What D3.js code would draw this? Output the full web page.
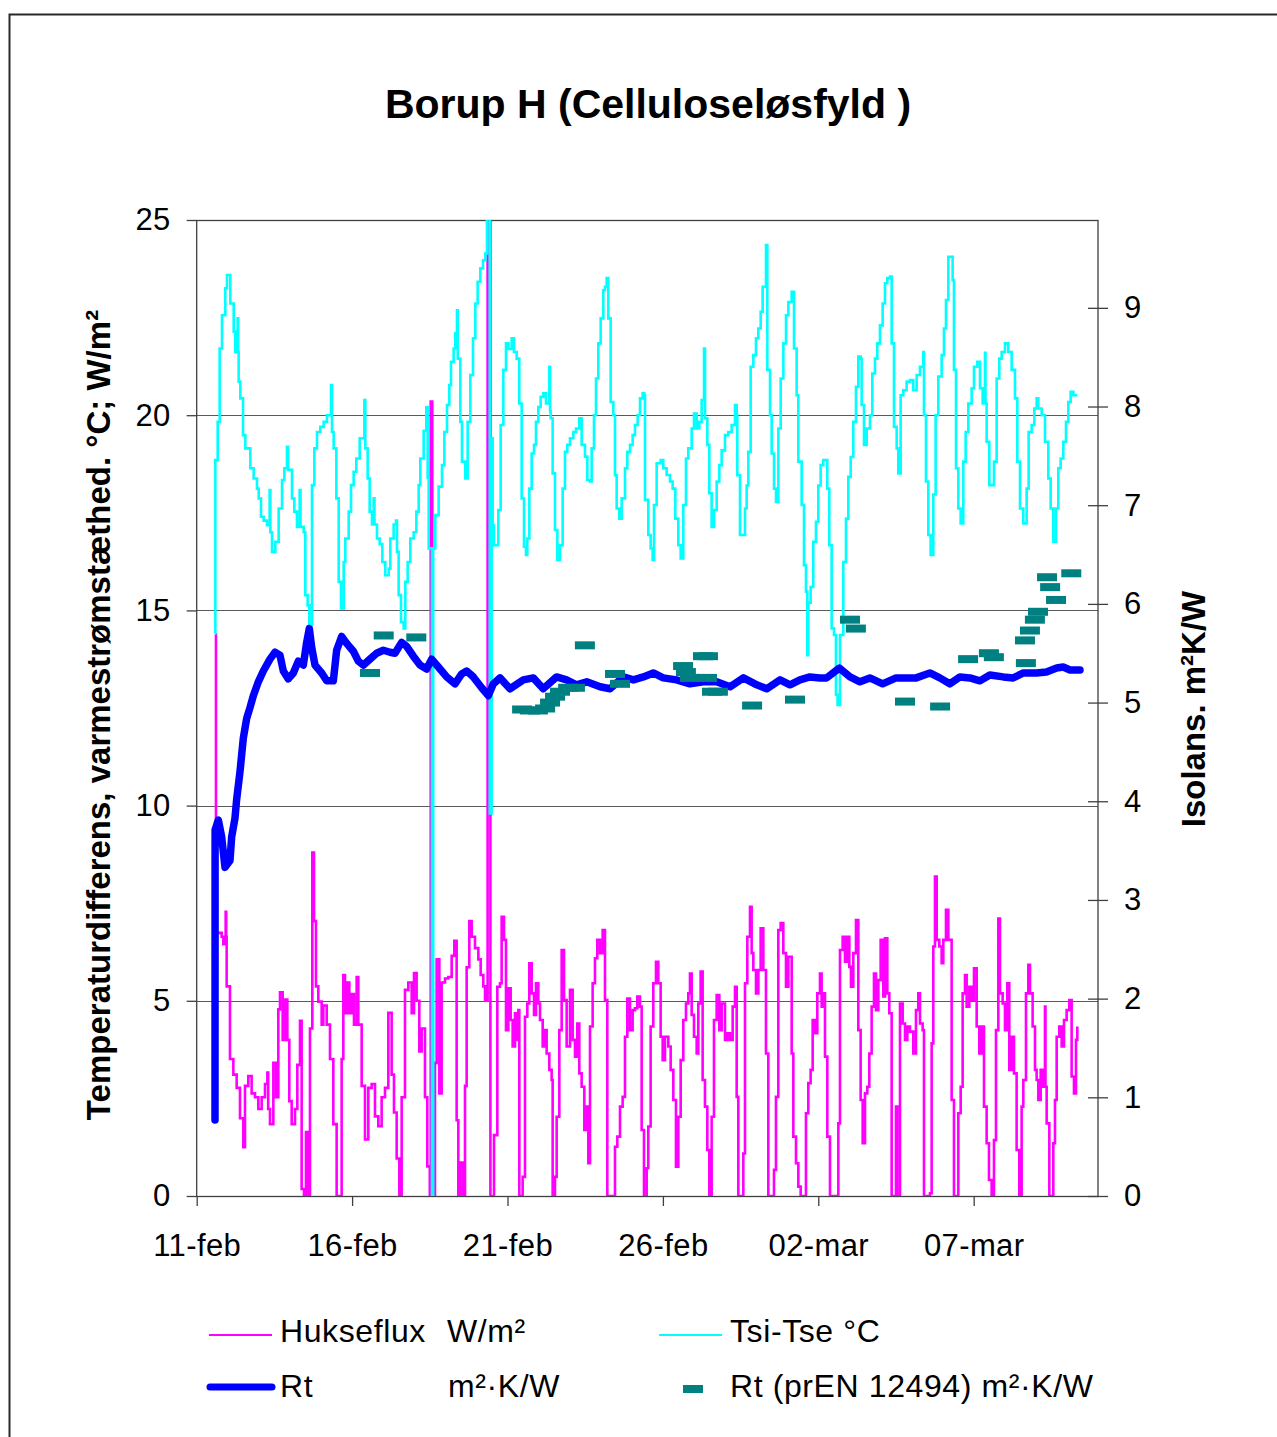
<!DOCTYPE html>
<html>
<head>
<meta charset="utf-8">
<script src="https://cdn.jsdelivr.net/npm/d3@7"></script>
<style>
  body { margin: 0; background: #fff; }
  svg { display: block; font-family: "Liberation Sans", Arial, sans-serif; }
</style>
</head>
<body>
<svg id="chart" width="1277" height="1437"></svg>
<script>
// Time axis: days after 11 Feb (leap year, so 26-feb + 5 days = 02-mar)
const xTickDays = [0, 5, 10, 15, 20, 25];
const xTickLabels = ["11-feb", "16-feb", "21-feb", "26-feb", "02-mar", "07-mar"];
const leftTicks = [0, 5, 10, 15, 20, 25];
const rightTicks = [0, 1, 2, 3, 4, 5, 6, 7, 8, 9];

// Hukseflux heat flux, W/m² — [day, value]
const hukseflux = [
  [0.59,14.39],[0.62,6.74],[0.803,6.64],[0.857,6.45],[0.932,7.28],[0.95,6.64],[0.964,5.37],[1.071,3.51],[1.179,3.11],[1.286,2.77],
  [1.393,1.99],[1.5,1.25],[1.554,2.82],[1.661,3.07],[1.768,2.63],[1.876,2.53],[1.983,2.23],[2.09,2.53],[2.198,2.87],[2.273,3.16],
  [2.30,2.23],[2.358,1.84],[2.466,3.41],[2.551,2.53],[2.626,4.78],[2.68,5.22],[2.766,4.0],[2.841,5.03],[2.916,4.0],[2.98,2.43],
  [3.056,1.84],[3.163,2.23],[3.238,3.36],[3.324,4.49],[3.377,0.18],[3.452,0],[3.517,1.64],[3.592,0],[3.645,4.29],[3.72,8.80],
  [3.774,7.04],[3.838,5.37],[3.913,4.98],[4.021,4.39],[4.074,4.88],[4.182,4.39],[4.289,3.51],[4.396,1.84],[4.503,0],[4.664,3.51],
  [4.718,5.66],[4.772,4.68],[4.847,5.47],[4.911,4.68],[4.986,5.17],[5.061,4.39],[5.147,5.61],[5.2,4.39],[5.308,2.82],[5.415,1.45],
  [5.522,2.77],[5.63,2.87],[5.737,2.04],[5.844,1.79],[5.951,2.53],[6.059,2.77],[6.166,4.69],[6.273,3.11],[6.348,2.14],[6.434,0.96],
  [6.52,0],[6.595,2.53],[6.702,5.28],[6.809,5.47],[6.917,4.68],[6.992,5.71],[7.077,5.0],[7.163,3.70],[7.238,4.29],[7.345,2.53],
  [7.42,0.76],[7.50,0],[7.53,20.35],[7.58,0],[7.667,3.41],[7.721,6.06],[7.807,2.63],[7.882,5.47],[7.989,5.57],[8.096,5.61],
  [8.204,6.15],[8.289,6.54],[8.364,1.94],[8.418,0],[8.493,0.86],[8.579,0],[8.633,2.82],[8.686,5.86],[8.772,7.04],[8.847,6.64],
  [8.954,6.35],[9.062,6.06],[9.137,5.66],[9.222,5.37],[9.277,5.0],[9.36,27],[9.45,0],
  [9.566,1.56],[9.673,5.36],[9.759,5.45],[9.812,7.15],[9.887,6.56],[9.952,4.25],[10.027,5.32],[10.102,4.51],[10.166,3.83],[10.241,4.68],
  [10.295,4.0],[10.349,4.76],[10.381,0],[10.488,0.49],[10.563,4.59],[10.638,4.93],[10.702,5.96],[10.778,5.19],[10.853,4.64],[10.917,5.45],
  [10.992,4.93],[11.046,4.51],[11.132,3.83],[11.207,4.25],[11.26,3.65],[11.346,3.23],[11.421,2.97],[11.453,0],[11.528,0.49],[11.582,2.03],
  [11.668,4.25],[11.743,6.30],[11.818,5.02],[11.904,3.83],[12.011,5.28],[12.097,4.0],[12.172,3.57],[12.247,4.42],[12.311,3.14],[12.386,2.80],
  [12.472,1.69],[12.547,2.29],[12.601,0.84],[12.655,4.34],[12.74,5.45],[12.815,6.09],[12.89,6.56],[12.976,6.22],[13.062,6.81],[13.137,5.02],
  [13.212,0],[13.459,1.26],[13.534,1.52],[13.62,2.29],[13.705,2.54],[13.781,4.08],[13.856,5.06],[13.941,4.25],[14.027,4.76],[14.102,4.81],
  [14.177,5.11],[14.263,4.85],[14.317,1.69],[14.392,0],[14.478,0.71],[14.531,1.78],[14.606,4.34],[14.692,5.45],[14.778,6.0],[14.853,5.45],
  [14.928,4.08],[14.993,3.48],[15.068,4.08],[15.175,3.83],[15.25,3.23],[15.336,2.46],[15.421,0.75],[15.497,2.03],[15.572,3.48],[15.657,4.51],
  [15.743,4.93],[15.818,5.19],[15.872,5.70],[15.926,4.64],[16.001,4.08],[16.087,3.65],[16.14,4.93],[16.215,5.75],[16.279,2.97],[16.354,2.29],
  [16.43,1.18],[16.494,0],[16.569,2.03],[16.644,4.51],[16.73,5.15],[16.816,4.25],[16.891,4.93],[16.998,4.0],[17.073,4.17],[17.159,4.0],
  [17.245,4.85],[17.32,5.36],[17.374,2.54],[17.427,0],[17.588,1.09],[17.642,5.45],[17.717,6.64],[17.803,7.41],[17.856,6.22],[17.91,5.79],
  [17.996,5.19],[18.071,5.79],[18.146,6.86],[18.232,5.79],[18.317,3.65],[18.392,0],[18.575,0.67],[18.639,2.54],[18.714,6.81],[18.789,6.99],
  [18.875,6.22],[18.961,5.36],[19.036,6.13],[19.144,3.65],
  [19.197,1.52],[19.283,0.84],[19.358,0.24],[19.433,0],[19.604,2.12],[19.679,2.89],[19.754,3.23],[19.819,4.51],[19.894,4.17],[19.969,5.19],
  [20.055,5.70],[20.108,4.85],[20.162,5.19],[20.216,3.57],[20.291,1.52],[20.377,0],[20.645,1.86],[20.698,6.30],[20.784,6.64],[20.859,6.0],
  [20.934,6.64],[20.999,5.87],[21.052,5.36],[21.127,6.22],[21.213,7.07],[21.288,4.25],[21.363,2.46],[21.428,1.35],[21.503,2.63],[21.578,2.80],
  [21.642,3.65],[21.717,4.85],[21.792,5.70],[21.857,4.76],[21.932,5.53],[22.007,6.56],[22.092,5.11],[22.146,6.60],[22.221,5.19],[22.286,4.68],
  [22.361,0],[22.5,2.29],[22.543,0],[22.629,4.93],[22.715,4.42],[22.79,4.0],[22.865,4.34],[22.95,4.21],[23.058,3.65],[23.143,4.76],
  [23.219,5.19],[23.272,4.42],[23.358,4.25],[23.401,0],[23.594,0.07],[23.648,3.91],[23.701,6.39],[23.755,8.18],[23.809,6.56],[23.894,6.39],
  [23.969,5.96],[24.023,6.56],[24.109,7.33],[24.184,6.56],[24.291,2.46],[24.366,0],[24.506,2.12],[24.581,2.80],[24.645,5.19],[24.72,5.66],
  [24.774,4.85],[24.86,5.36],[24.935,5.02],[25.01,5.83],[25.096,4.34],[25.181,3.65],[25.256,4.34],[25.332,2.29],[25.417,1.35],[25.492,0.41],
  [25.578,0],[25.653,1.43],[25.718,4.25],[25.793,7.11],[25.846,5.19],[25.932,4.93],[26.007,4.25],[26.082,5.45],[26.146,3.23],[26.222,4.08],
  [26.297,3.14],[26.382,1.18],[26.468,0],[26.543,2.29],[26.597,2.97],[26.683,5.19],[26.758,5.92],[26.812,5.19],[26.897,4.34],[26.973,3.23],
  [27.026,2.97],[27.08,2.46],[27.155,3.23],[27.219,2.80],[27.294,4.85],[27.31,2.80],[27.348,1.86],[27.434,0],[27.562,1.35],[27.616,2.46],
  [27.67,4.08],[27.755,4.34],[27.83,3.83],[27.906,4.51],[27.991,4.76],[28.077,5.02],[28.152,3.06],[28.227,2.63],[28.292,4.0],[28.334,4.34]
];

// Surface temperature difference Tsi-Tse, °C — [day, value]
const tsiTse = [
  [0.59,14.41],[0.60,18.85],[0.675,19.83],[0.739,21.71],[0.814,22.56],[0.921,23.25],[0.975,23.59],[1.082,22.86],[1.19,22.14],[1.243,21.62],
  [1.318,22.48],[1.335,21.62],[1.35,20.86],[1.404,20.43],[1.49,19.49],[1.565,19.15],[1.726,18.64],[1.833,18.38],[1.94,18.12],[1.994,17.87],
  [2.069,17.40],[2.155,17.30],[2.262,17.18],[2.348,18.08],[2.37,17.0],[2.423,16.50],[2.53,16.76],[2.637,17.61],[2.745,18.34],[2.82,18.64],
  [2.905,19.19],[2.94,18.60],[3.066,17.87],[3.141,17.53],[3.227,17.14],[3.313,18.08],[3.34,17.14],[3.442,17.0],[3.495,15.39],[3.57,15.13],
  [3.624,14.62],[3.71,18.21],[3.785,19.15],[3.871,19.57],[3.978,19.70],[4.085,19.83],[4.192,20.0],[4.321,20.77],[4.353,19.57],[4.407,19.15],
  [4.493,17.87],[4.568,15.73],[4.643,15.05],[4.729,16.24],[4.782,16.84],[4.89,17.53],[4.965,18.21],[5.05,18.55],[5.136,18.89],[5.244,19.41],
  [5.394,20.39],[5.426,19.15],[5.501,18.38],[5.565,17.53],[5.64,17.20],[5.694,17.87],[5.72,17.20],[5.801,16.84],[5.887,16.70],[5.973,16.24],
  [6.069,15.90],[6.177,16.07],[6.23,16.84],[6.337,17.20],[6.413,17.30],[6.445,16.50],[6.498,15.39],[6.573,14.70],[6.659,14.54],[6.713,15.73],
  [6.788,16.24],[6.873,16.84],[6.981,17.0],[7.067,17.53],[7.142,18.21],[7.195,18.89],[7.303,19.60],[7.388,20.20],[7.431,18.40],[7.464,16.59],
  [7.57,0],[7.61,16.59],[7.678,17.44],[7.785,18.17],[7.893,18.72],[7.968,19.57],[8.054,20.26],[8.128,20.77],[8.182,21.37],[8.268,21.71],
  [8.321,22.10],[8.375,22.69],[8.40,21.45],[8.482,19.83],[8.536,18.81],[8.643,18.38],[8.718,19.83],[8.804,21.03],[8.89,21.97],[8.965,22.86],
  [9.04,23.42],[9.126,23.76],[9.212,23.97],[9.287,24.14],[9.34,27],[9.43,9.8],[9.49,19.41],[9.523,17.18],[9.56,16.67],[9.705,17.57],
  [9.78,19.75],[9.866,21.16],[9.952,21.84],[10.03,21.70],[10.134,21.97],[10.209,21.62],[10.295,21.45],[10.38,20.30],[10.456,17.87],[10.531,16.63],
  [10.595,16.42],[10.638,16.84],[10.703,18.12],[10.778,19.02],[10.853,19.24],[10.917,19.83],[10.992,20.21],[11.067,20.47],[11.153,20.56],[11.239,20.30],
  [11.346,21.24],[11.37,20.1],[11.389,19.92],[11.453,18.51],[11.528,17.06],[11.604,16.29],[11.689,16.67],[11.775,18.12],[11.85,19.06],[11.925,19.24],
  [12.011,19.41],[12.118,19.57],[12.204,19.66],[12.311,19.92],[12.386,19.24],[12.494,18.94],[12.569,18.34],[12.655,18.30],[12.708,19.15],[12.783,20.0],
  [12.848,20.94],[12.922,21.84],[12.998,22.48],[13.083,23.20],[13.137,23.29],[13.191,23.51],[13.244,22.48],[13.319,20.34],[13.405,20.0],[13.459,18.46],
  [13.512,17.61],[13.598,17.35],[13.673,17.87],[13.781,18.64],[13.856,19.06],[13.942,19.24],[14.027,19.49],[14.103,19.75],[14.188,20.0],[14.264,20.43],
  [14.349,20.56],[14.40,20.51],[14.424,17.83],[14.531,16.93],[14.606,16.59],[14.671,16.29],[14.714,17.70],[14.799,18.77],[14.928,18.85],[15.013,18.64],
  [15.121,18.47],[15.228,18.30],[15.314,18.12],[15.40,17.35],[15.496,16.67],[15.572,16.33],[15.657,17.70],[15.743,18.89],[15.818,19.15],[15.926,19.66],
  [16.001,20.04],[16.087,19.66],[16.172,19.83],[16.247,20.39],[16.323,21.71],[16.355,19.92],[16.43,19.24],[16.494,18.0],[16.569,17.14],[16.645,17.57],
  [16.73,18.30],[16.816,18.72],[16.891,19.10],[16.998,19.49],[17.105,19.57],[17.213,19.75],[17.32,20.26],[17.374,20.0],[17.395,18.46],[17.481,16.93],
  [17.567,16.93],[17.642,17.61],[17.695,18.20],[17.749,19.06],[17.824,21.24],[17.91,21.54],[17.995,21.97],[18.071,22.22],[18.146,22.65],[18.21,23.29],
  [18.286,23.29],[18.318,24.36],[18.361,21.16],[18.447,20.0],[18.5,19.02],[18.576,18.12],[18.64,17.78],[18.715,19.66],[18.79,20.94],[18.876,21.84],
  [18.962,22.56],[19.037,22.90],[19.144,23.16],[19.219,21.71],[19.304,20.51],[19.357,18.81],[19.465,17.70],[19.54,16.16],[19.604,15.48],[19.647,13.85],
  [19.679,15.20],[19.754,15.60],[19.839,16.76],[19.926,17.27],[20.0,18.20],[20.076,18.72],[20.161,18.85],[20.29,18.12],[20.354,16.67],[20.43,14.54],
  [20.505,14.37],[20.569,12.84],[20.62,12.58],[20.698,14.37],[20.805,16.24],[20.891,17.35],[20.966,18.42],[21.042,18.93],[21.127,19.83],[21.213,20.73],
  [21.288,21.50],[21.363,21.45],[21.395,20.26],[21.471,19.24],[21.556,19.66],[21.663,20.0],[21.738,21.07],[21.824,21.45],[21.899,21.84],[21.985,22.30],
  [22.071,22.86],[22.146,23.38],[22.221,23.51],[22.307,23.55],[22.361,21.84],[22.436,19.70],[22.522,19.15],[22.574,18.51],[22.65,20.51],[22.735,20.64],
  [22.843,20.86],[22.95,20.90],[23.057,20.64],[23.165,21.03],[23.272,21.24],[23.379,21.62],[23.4,20.0],[23.465,18.30],[23.54,16.93],[23.615,16.42],
  [23.701,17.97],[23.776,20.0],[23.861,20.99],[23.969,21.54],[24.044,22.22],[24.109,22.95],[24.184,24.06],[24.259,24.06],[24.323,23.46],[24.366,21.16],
  [24.431,18.64],[24.506,17.61],[24.581,17.23],[24.666,18.81],[24.741,19.57],[24.827,20.30],[24.935,20.69],[25.01,21.24],[25.117,21.37],[25.203,20.69],
  [25.289,20.30],[25.364,21.60],[25.38,20.30],[25.417,19.32],[25.503,18.21],[25.578,18.21],[25.653,18.81],[25.739,20.94],[25.825,21.45],[25.9,21.62],
  [26.007,21.84],[26.114,21.62],[26.222,21.16],[26.329,20.43],[26.404,18.81],[26.49,17.61],[26.597,17.23],[26.704,18.12],[26.768,19.57],[26.865,19.75],
  [26.951,20.17],[27.026,20.43],[27.08,20.17],[27.187,20.0],[27.294,19.32],[27.401,18.38],[27.477,17.61],[27.562,16.76],[27.648,17.61],[27.723,18.64],
  [27.798,18.89],[27.884,19.32],[27.97,19.83],[28.045,20.34],[28.12,20.60],[28.206,20.51],[28.334,20.51]
];

// Thermal resistance Rt, m²·K/W — [day, value]
const rt = [
  [0.589,0.77],[0.592,3.71],[0.696,3.81],[0.803,3.64],[0.911,3.33],[1.071,3.40],[1.125,3.64],[1.232,3.83],[1.286,4.02],[1.393,4.30],
  [1.5,4.64],[1.608,4.84],[1.715,4.95],[1.822,5.07],[1.983,5.21],[2.144,5.32],[2.358,5.44],[2.519,5.51],[2.68,5.48],[2.787,5.32],
  [2.948,5.24],[3.109,5.30],[3.27,5.42],[3.431,5.38],[3.538,5.61],[3.624,5.75],[3.699,5.56],[3.806,5.38],[4.021,5.30],[4.182,5.22],
  [4.396,5.22],[4.503,5.53],[4.664,5.67],[4.825,5.60],[5.04,5.52],[5.2,5.42],[5.361,5.38],[5.576,5.44],[5.79,5.50],[6.005,5.53],
  [6.219,5.51],[6.38,5.50],[6.595,5.61],[6.756,5.57],[6.97,5.47],[7.184,5.38],[7.399,5.34],[7.56,5.44],[7.775,5.36],[8.043,5.26],
  [8.311,5.19],[8.526,5.29],[8.687,5.32],[8.901,5.26],[9.169,5.15],[9.384,5.07],[9.545,5.19],[9.76,5.25],[10.08,5.14],[10.51,5.23],
  [10.83,5.25],[11.15,5.14],[11.58,5.26],[11.9,5.23],[12.22,5.18],[12.55,5.21],[12.98,5.16],[13.3,5.14],[13.73,5.26],[14.05,5.23],
  [14.37,5.26],[14.69,5.30],[15.01,5.25],[15.44,5.23],[15.87,5.19],[16.3,5.21],[16.73,5.21],[17.16,5.16],[17.59,5.25],[18.02,5.18],
  [18.34,5.14],[18.77,5.23],[19.09,5.18],[19.41,5.23],[19.73,5.26],[20.05,5.25],[20.27,5.25],[20.68,5.35],[21.02,5.26],[21.34,5.21],
  [21.66,5.25],[22.07,5.19],[22.5,5.25],[23.15,5.25],[23.59,5.30],[23.91,5.25],[24.23,5.19],[24.56,5.26],[24.88,5.25],[25.2,5.22],
  [25.52,5.28],[25.95,5.26],[26.27,5.25],[26.6,5.30],[27.02,5.30],[27.34,5.31],[27.67,5.35],[27.88,5.36],[28.1,5.33],[28.42,5.33]
];

// Rt evaluated after prEN 12494, m²·K/W — [day, value]
const rtPrEN = [
  [5.576,5.30],[6.017,5.68],[7.066,5.66],[10.47,4.93],[10.72,4.92],[10.98,4.92],[11.21,4.94],[11.37,5.00],[11.53,5.06],[11.69,5.11],
  [11.95,5.15],[12.17,5.15],[12.49,5.58],[13.46,5.29],[13.62,5.19],[15.65,5.37],[15.74,5.31],[15.87,5.25],[16.29,5.47],[16.45,5.47],
  [16.42,5.25],[16.58,5.11],[16.77,5.11],[17.87,4.97],[19.25,5.03],[21.02,5.84],[21.21,5.75],[22.79,5.01],[23.92,4.96],[24.82,5.44],
  [25.49,5.50],[25.65,5.46],[26.68,5.40],[26.65,5.63],[26.81,5.73],[26.97,5.84],[27.07,5.92],[27.36,6.27],[27.46,6.17],[27.65,6.04],
  [28.14,6.31]
];

const svg = d3.select("#chart");
const plot = { left: 196.7, right: 1098, top: 220, bottom: 1196 };

const x = d3.scaleLinear().domain([0, 29]).range([plot.left, plot.right]);
const yL = d3.scaleLinear().domain([0, 25]).range([plot.bottom, plot.top]);
const yR = d3.scaleLinear().domain([0, 9.89]).range([plot.bottom, plot.top]);

// outer frame
svg.append("rect")
  .attr("x", 9.5).attr("y", 14.5).attr("width", 1290).attr("height", 1450)
  .attr("fill", "none").attr("stroke", "#2a2a2a").attr("stroke-width", 2);

// title
svg.append("text")
  .attr("x", 648).attr("y", 118)
  .attr("text-anchor", "middle")
  .attr("font-size", 41).attr("font-weight", "bold")
  .text("Borup H (Celluloseløsfyld )");

// gridlines
svg.append("g").selectAll("line")
  .data(leftTicks.filter(d => d > 0 && d < 25))
  .join("line")
  .attr("x1", plot.left).attr("x2", plot.right)
  .attr("y1", d => Math.round(yL(d)) + 0.5).attr("y2", d => Math.round(yL(d)) + 0.5)
  .attr("stroke", "#5a5a5a").attr("stroke-width", 1);

// plot frame
svg.append("rect")
  .attr("x", plot.left).attr("y", plot.top + 0.5)
  .attr("width", plot.right - plot.left).attr("height", plot.bottom - plot.top)
  .attr("fill", "none").attr("stroke", "#404040").attr("stroke-width", 1.3);

// axes
const axisStyle = g => {
  g.select(".domain").remove();
  g.selectAll(".tick line").attr("stroke", "#404040").attr("stroke-width", 1.3);
  g.selectAll("text").attr("font-size", 31).attr("fill", "#000")
    .attr("letter-spacing", 0.4)
    .attr("font-family", "'Liberation Sans', Arial, sans-serif");
};

svg.append("g")
  .attr("transform", `translate(${plot.left},0)`)
  .call(d3.axisLeft(yL).tickValues(leftTicks).tickSize(10).tickPadding(16))
  .call(axisStyle);

const gR = svg.append("g")
  .attr("transform", `translate(${plot.right},0)`)
  .call(d3.axisRight(yR).tickValues(rightTicks).tickSize(10).tickPadding(16))
  .call(axisStyle);
gR.selectAll(".tick line").attr("x1", -10);

const gB = svg.append("g")
  .attr("transform", `translate(0,${plot.bottom})`)
  .call(d3.axisBottom(x).tickValues(xTickDays).tickSize(10).tickPadding(28)
    .tickFormat((d, i) => xTickLabels[i]))
  .call(axisStyle);
gB.selectAll("text").attr("dy", "0.71em");

// axis titles
svg.append("text")
  .attr("transform", "translate(110,715) rotate(-90)")
  .attr("text-anchor", "middle")
  .attr("font-size", 33).attr("font-weight", "bold")
  .text("Temperaturdifferens, varmestrømstæthed. °C; W/m²");

svg.append("text")
  .attr("transform", "translate(1205,709) rotate(-90)")
  .attr("text-anchor", "middle")
  .attr("font-size", 33).attr("font-weight", "bold")
  .text("Isolans. m²K/W");

// series
svg.append("clipPath").attr("id", "plotClip")
  .append("rect")
  .attr("x", plot.left).attr("y", plot.top)
  .attr("width", plot.right - plot.left).attr("height", plot.bottom - plot.top);

const gSeries = svg.append("g").attr("clip-path", "url(#plotClip)");

const lineL = d3.line().x(d => x(d[0])).y(d => yL(d[1])).curve(d3.curveStepAfter);
const lineR = d3.line().x(d => x(d[0])).y(d => yR(d[1]));

gSeries.append("path").datum(hukseflux)
  .attr("d", lineL).attr("fill", "none")
  .attr("stroke", "#ff00ff").attr("stroke-width", 2.6);

gSeries.append("path").datum(tsiTse)
  .attr("d", lineL).attr("fill", "none")
  .attr("stroke", "#00ffff").attr("stroke-width", 2.6);

gSeries.append("path").datum(rt)
  .attr("d", lineR).attr("fill", "none")
  .attr("stroke", "#0000ff").attr("stroke-width", 7.5)
  .attr("stroke-linejoin", "round").attr("stroke-linecap", "round");

gSeries.append("g").selectAll("rect")
  .data(rtPrEN)
  .join("rect")
  .attr("x", d => x(d[0]) - 10).attr("y", d => yR(d[1]) - 4)
  .attr("width", 20).attr("height", 8)
  .attr("fill", "#008080");

// legend
const legend = svg.append("g").attr("font-size", 32).attr("letter-spacing", 0.6);
legend.append("line").attr("x1", 209).attr("x2", 272).attr("y1", 1335).attr("y2", 1335)
  .attr("stroke", "#ff00ff").attr("stroke-width", 2.2);
legend.append("text").attr("x", 280).attr("y", 1342).text("Hukseflux");
legend.append("text").attr("x", 447).attr("y", 1342).text("W/m²");

legend.append("line").attr("x1", 659).attr("x2", 722).attr("y1", 1335).attr("y2", 1335)
  .attr("stroke", "#00ffff").attr("stroke-width", 2.2);
legend.append("text").attr("x", 730).attr("y", 1342).text("Tsi-Tse °C");

legend.append("line").attr("x1", 210).attr("x2", 272).attr("y1", 1387).attr("y2", 1387)
  .attr("stroke", "#0000ff").attr("stroke-width", 7).attr("stroke-linecap", "round");
legend.append("text").attr("x", 280).attr("y", 1397).text("Rt");
legend.append("text").attr("x", 448).attr("y", 1397).text("m²·K/W");

legend.append("rect").attr("x", 683).attr("y", 1385).attr("width", 20).attr("height", 8)
  .attr("fill", "#008080");
legend.append("text").attr("x", 730).attr("y", 1397).text("Rt (prEN 12494) m²·K/W");
</script>
</body>
</html>
